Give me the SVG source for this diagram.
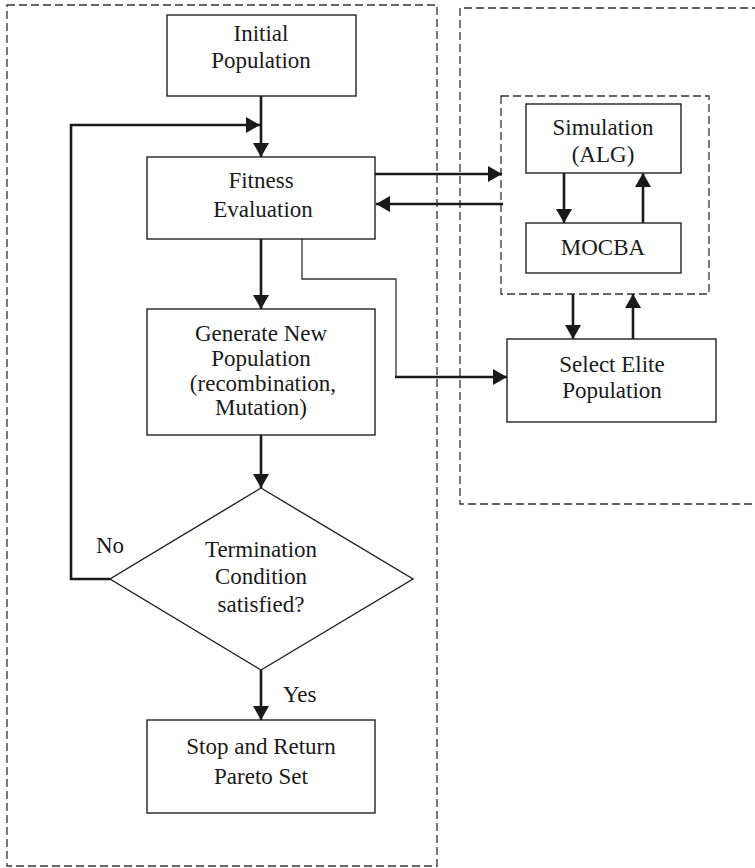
<svg xmlns="http://www.w3.org/2000/svg" width="755" height="868" viewBox="0 0 755 868">
  <style>
    .box { fill: #fff; stroke: #222; stroke-width: 1.4; }
    .frame { fill: none; stroke: #333; stroke-width: 1.3; stroke-dasharray: 8 4; }
    .flow { fill: none; stroke: #1a1a1a; stroke-width: 2.6; }
    .thin { fill: none; stroke: #333; stroke-width: 1.3; }
    text { font-family: "Liberation Serif", "Times New Roman", serif; font-size: 23px; fill: #1a1a1a; text-anchor: middle; }
    .lbl { text-anchor: start; }
  </style>
  <defs>
    <marker id="head" viewBox="0 0 14 16" refX="14" refY="8" markerWidth="14" markerHeight="16" markerUnits="userSpaceOnUse" orient="auto">
      <path d="M0,0 L14,8 L0,16 Z" fill="#1a1a1a"/>
    </marker>
  </defs>

  <!-- dashed frames -->
  <g id="frames">
    <rect class="frame" x="7" y="5" width="430" height="861"/>
    <path class="frame" d="M760,8 H460 V504 H760"/>
    <rect class="frame" x="501" y="96" width="208" height="198"/>
  </g>

  <!-- connectors -->
  <g id="connectors">
    <line class="flow" x1="261" y1="96" x2="261" y2="157" marker-end="url(#head)"/>
    <polyline class="flow" points="110,579 71,579 71,125 260,125" marker-end="url(#head)"/>
    <line class="flow" x1="261" y1="239" x2="261" y2="309" marker-end="url(#head)"/>
    <line class="flow" x1="261" y1="435" x2="261" y2="488" marker-end="url(#head)"/>
    <line class="flow" x1="261" y1="670" x2="261" y2="720" marker-end="url(#head)"/>
    <line class="flow" x1="375" y1="174" x2="502" y2="174" marker-end="url(#head)"/>
    <line class="flow" x1="503" y1="204" x2="376" y2="204" marker-end="url(#head)"/>
    <polyline class="thin" points="302,239 302,279 396,279 396,377"/>
    <line class="flow" x1="395" y1="377" x2="507" y2="377" marker-end="url(#head)"/>
    <line class="flow" x1="564" y1="173" x2="564" y2="223" marker-end="url(#head)"/>
    <line class="flow" x1="643" y1="223" x2="643" y2="173" marker-end="url(#head)"/>
    <line class="flow" x1="573" y1="294" x2="573" y2="339" marker-end="url(#head)"/>
    <line class="flow" x1="633" y1="339" x2="633" y2="294" marker-end="url(#head)"/>
  </g>

  <g id="initial">
    <rect class="box" x="167" y="15" width="189" height="81"/>
    <text x="261" y="41">Initial</text>
    <text x="261" y="68">Population</text>
  </g>

  <g id="fitness">
    <rect class="box" x="147" y="157" width="228" height="82"/>
    <text x="261" y="188">Fitness</text>
    <text x="263" y="217">Evaluation</text>
  </g>

  <g id="generate">
    <rect class="box" x="147" y="309" width="228" height="126"/>
    <text x="261" y="341">Generate New</text>
    <text x="261" y="366">Population</text>
    <text x="263" y="391">(recombination,</text>
    <text x="261" y="415">Mutation)</text>
  </g>

  <g id="termination">
    <polygon class="box" points="261,488 413,579 261,670 110,579"/>
    <text x="261" y="557">Termination</text>
    <text x="261" y="584">Condition</text>
    <text x="261" y="612">satisfied?</text>
  </g>

  <g id="stop">
    <rect class="box" x="147" y="720" width="228" height="93"/>
    <text x="261" y="754">Stop and Return</text>
    <text x="261" y="784">Pareto Set</text>
  </g>

  <g id="simulation">
    <rect class="box" x="526" y="104" width="155" height="69"/>
    <text x="603" y="135">Simulation</text>
    <text x="603" y="162">(ALG)</text>
  </g>

  <g id="mocba">
    <rect class="box" x="526" y="223" width="155" height="50"/>
    <text x="603" y="255">MOCBA</text>
  </g>

  <g id="elite">
    <rect class="box" x="507" y="339" width="209" height="83"/>
    <text x="612" y="372">Select Elite</text>
    <text x="612" y="398">Population</text>
  </g>

  <g id="labels">
    <text class="lbl" x="96" y="553">No</text>
    <text class="lbl" x="283" y="702">Yes</text>
  </g>
</svg>
